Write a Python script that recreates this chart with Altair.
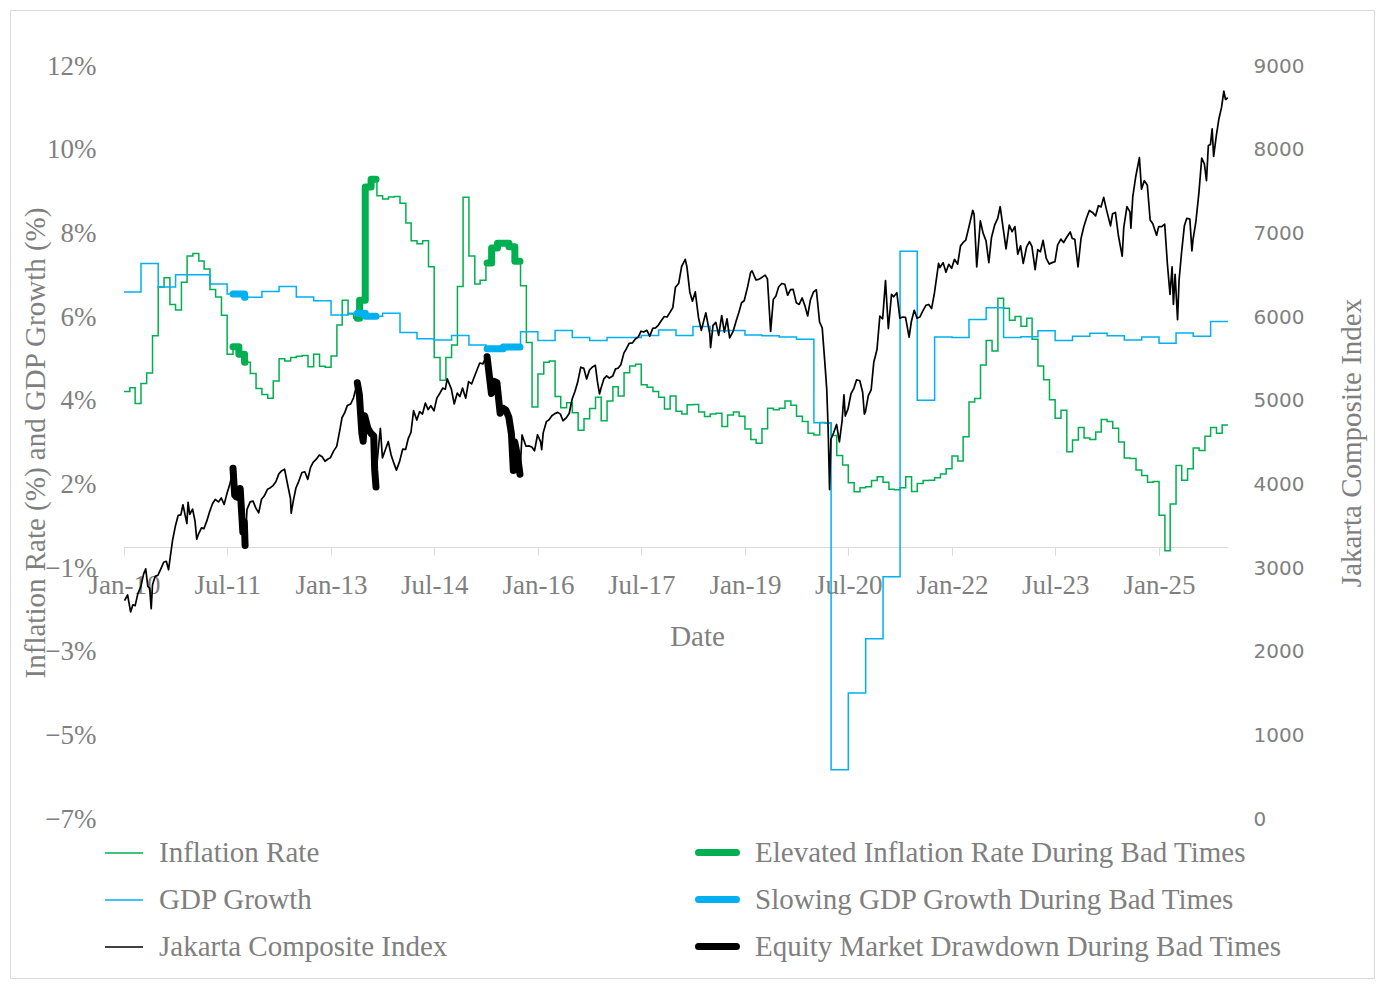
import altair as alt
import pandas as pd

# ---------------- data ----------------
# Monthly inflation rate (%), Jan 2010 .. Dec 2025
inflation_values = [
    3.72, 3.81, 3.43, 3.91, 4.16, 5.05, 6.22, 6.44, 5.80, 5.67, 6.33, 6.96,
    7.02, 6.84, 6.65, 6.16, 5.98, 5.54, 4.61, 4.79, 4.61, 4.42, 4.15, 3.79,
    3.65, 3.56, 3.97, 4.50, 4.45, 4.53, 4.56, 4.58, 4.31, 4.61, 4.32, 4.30,
    4.57, 5.31, 5.90, 5.57, 5.47, 5.90, 8.61, 8.79, 8.40, 8.32, 8.37, 8.38,
    8.22, 7.75, 7.32, 7.25, 7.32, 6.70, 4.53, 3.99, 4.53, 4.83, 6.23, 8.36,
    6.96, 6.29, 6.38, 6.79, 7.15, 7.26, 7.26, 7.18, 6.83, 6.25, 4.89, 3.35,
    4.14, 4.42, 4.45, 3.60, 3.33, 3.45, 3.21, 2.79, 3.07, 3.31, 3.58, 3.02,
    3.49, 3.83, 3.61, 4.17, 4.33, 4.37, 3.88, 3.82, 3.72, 3.58, 3.30, 3.61,
    3.25, 3.18, 3.40, 3.41, 3.23, 3.12, 3.18, 3.20, 2.88, 3.16, 3.23, 3.13,
    2.82, 2.57, 2.48, 2.83, 3.32, 3.28, 3.32, 3.49, 3.39, 3.13, 3.00, 2.72,
    2.68, 2.98, 2.96, 2.67, 2.19, 1.96, 1.54, 1.32, 1.42, 1.44, 1.59, 1.68,
    1.55, 1.38, 1.37, 1.42, 1.68, 1.33, 1.52, 1.59, 1.60, 1.66, 1.75, 1.87,
    2.18, 2.06, 2.64, 3.47, 3.55, 4.35, 4.94, 4.69, 5.95, 5.71, 5.42, 5.51,
    5.28, 5.47, 4.97, 4.33, 4.00, 3.52, 3.08, 3.27, 2.28, 2.56, 2.86, 2.61,
    2.57, 2.75, 3.05, 3.00, 2.84, 2.51, 2.13, 2.12, 1.84, 1.71, 1.55, 1.57,
    0.76, -0.09, 1.03, 1.95, 1.60, 1.87, 2.37, 2.31, 2.65, 2.86, 2.72, 2.92,
]

# Quarterly GDP growth (%), Q1 2010 .. Q4 2025
gdp_values = [
    6.10, 6.78, 6.22, 6.51,
    6.51, 6.29, 6.05, 5.97,
    6.11, 6.23, 5.98, 5.89,
    5.55, 5.59, 5.52, 5.59,
    5.13, 4.98, 4.95, 5.06,
    4.83, 4.74, 4.78, 5.15,
    4.94, 5.18, 5.01, 4.94,
    5.01, 5.01, 5.06, 5.19,
    5.06, 5.27, 5.17, 5.18,
    5.07, 5.05, 5.02, 4.97,
    2.97, -5.32, -3.49, -2.19,
    -0.71, 7.07, 3.51, 5.02,
    5.01, 5.44, 5.72, 5.01,
    5.03, 5.17, 4.94, 5.04,
    5.11, 5.05, 4.95, 5.02,
    4.87, 5.12, 5.04, 5.39,
]

# Jakarta Composite Index
jci_dates = [
    "2010-01-04", "2010-01-20", "2010-02-05", "2010-02-17", "2010-03-01", "2010-03-15", "2010-03-31",
    "2010-04-15", "2010-04-26", "2010-05-07", "2010-05-17", "2010-05-25", "2010-06-01", "2010-06-15",
    "2010-06-30", "2010-07-15", "2010-07-30", "2010-08-13", "2010-08-25", "2010-09-01", "2010-09-15",
    "2010-09-30", "2010-10-15", "2010-10-29", "2010-11-09", "2010-11-30", "2010-12-06", "2010-12-15",
    "2010-12-30",
    "2011-01-12", "2011-01-21", "2011-01-31", "2011-02-15", "2011-02-28", "2011-03-15", "2011-03-31",
    "2011-04-15", "2011-04-29", "2011-05-16", "2011-05-31", "2011-06-15", "2011-06-30", "2011-07-15",
    "2011-07-29", "2011-08-01", "2011-08-10", "2011-08-19", "2011-08-31", "2011-09-08", "2011-09-22",
    "2011-09-30", "2011-10-04", "2011-10-14", "2011-10-31", "2011-11-15", "2011-11-30", "2011-12-15",
    "2011-12-30",
    "2012-01-13", "2012-01-31", "2012-02-15", "2012-02-29", "2012-03-15", "2012-03-30", "2012-04-13",
    "2012-04-30", "2012-05-15", "2012-05-31", "2012-06-04", "2012-06-15", "2012-06-29", "2012-07-13",
    "2012-07-31", "2012-08-15", "2012-08-31", "2012-09-14", "2012-09-28", "2012-10-15", "2012-10-31",
    "2012-11-15", "2012-11-30", "2012-12-14", "2012-12-28",
    "2013-01-15", "2013-01-31", "2013-02-15", "2013-02-28", "2013-03-15", "2013-03-28", "2013-04-15",
    "2013-04-30", "2013-05-20", "2013-05-31", "2013-06-13", "2013-06-20", "2013-06-28", "2013-07-15",
    "2013-07-31", "2013-08-15", "2013-08-20", "2013-08-27", "2013-08-30", "2013-09-19", "2013-09-30",
    "2013-10-15", "2013-10-31", "2013-11-15", "2013-11-29", "2013-12-13", "2013-12-30",
    "2014-01-15", "2014-01-31", "2014-02-14", "2014-02-28", "2014-03-14", "2014-03-31", "2014-04-15",
    "2014-04-30", "2014-05-15", "2014-05-30", "2014-06-13", "2014-06-30", "2014-07-15", "2014-07-31",
    "2014-08-15", "2014-08-29", "2014-09-08", "2014-09-30", "2014-10-15", "2014-10-31", "2014-11-14",
    "2014-11-28", "2014-12-15", "2014-12-30",
    "2015-01-15", "2015-01-30", "2015-02-13", "2015-02-27", "2015-03-16", "2015-03-31", "2015-04-07",
    "2015-04-30", "2015-05-15", "2015-05-29", "2015-06-15", "2015-06-30", "2015-07-15", "2015-07-31",
    "2015-08-14", "2015-08-24", "2015-08-31", "2015-09-15", "2015-09-28", "2015-09-30", "2015-10-09",
    "2015-10-30", "2015-11-13", "2015-11-30", "2015-12-14", "2015-12-30",
    "2016-01-15", "2016-01-21", "2016-01-29", "2016-02-15", "2016-02-29", "2016-03-15", "2016-03-31",
    "2016-04-15", "2016-04-29", "2016-05-13", "2016-05-31", "2016-06-15", "2016-06-30", "2016-07-15",
    "2016-07-29", "2016-08-15", "2016-08-31", "2016-09-15", "2016-09-30", "2016-10-14", "2016-10-31",
    "2016-11-11", "2016-11-22", "2016-11-30", "2016-12-15", "2016-12-30",
    "2017-01-13", "2017-01-31", "2017-02-15", "2017-02-28", "2017-03-15", "2017-03-31", "2017-04-13",
    "2017-04-28", "2017-05-15", "2017-05-31", "2017-06-15", "2017-06-30", "2017-07-14", "2017-07-31",
    "2017-08-15", "2017-08-31", "2017-09-15", "2017-09-29", "2017-10-13", "2017-10-31", "2017-11-15",
    "2017-11-30", "2017-12-15", "2017-12-29",
    "2018-01-15", "2018-01-31", "2018-02-19", "2018-02-28", "2018-03-15", "2018-03-29", "2018-04-13",
    "2018-04-30", "2018-05-15", "2018-05-31", "2018-06-08", "2018-06-29", "2018-07-03", "2018-07-16",
    "2018-07-31", "2018-08-15", "2018-08-31", "2018-09-14", "2018-09-28", "2018-10-12", "2018-10-31",
    "2018-11-15", "2018-11-30", "2018-12-14", "2018-12-28",
    "2019-01-15", "2019-01-31", "2019-02-08", "2019-02-28", "2019-03-15", "2019-03-29", "2019-04-18",
    "2019-04-30", "2019-05-17", "2019-05-31", "2019-06-14", "2019-06-28", "2019-07-15", "2019-07-31",
    "2019-08-15", "2019-08-30", "2019-09-13", "2019-09-30", "2019-10-15", "2019-10-31", "2019-11-15",
    "2019-11-29", "2019-12-13", "2019-12-30",
    "2020-01-14", "2020-01-31", "2020-02-14", "2020-02-28", "2020-03-09", "2020-03-16", "2020-03-24",
    "2020-03-31", "2020-04-15", "2020-04-30", "2020-05-15", "2020-05-29", "2020-06-08", "2020-06-15",
    "2020-06-30", "2020-07-15", "2020-07-31", "2020-08-14", "2020-08-31", "2020-09-15", "2020-09-24",
    "2020-09-30", "2020-10-15", "2020-10-30", "2020-11-13", "2020-11-30", "2020-12-15", "2020-12-30",
    "2021-01-14", "2021-01-29", "2021-02-15", "2021-02-26", "2021-03-15", "2021-03-31", "2021-04-15",
    "2021-04-30", "2021-05-19", "2021-05-31", "2021-06-15", "2021-06-30", "2021-07-15", "2021-07-30",
    "2021-08-16", "2021-08-31", "2021-09-15", "2021-09-30", "2021-10-22", "2021-10-29", "2021-11-15",
    "2021-11-30", "2021-12-15", "2021-12-30",
    "2022-01-14", "2022-01-31", "2022-02-15", "2022-02-28", "2022-03-15", "2022-03-31", "2022-04-21",
    "2022-04-28", "2022-05-12", "2022-05-31", "2022-06-15", "2022-06-30", "2022-07-15", "2022-07-29",
    "2022-08-15", "2022-08-31", "2022-09-13", "2022-09-30", "2022-10-14", "2022-10-31", "2022-11-15",
    "2022-11-30", "2022-12-15", "2022-12-30",
    "2023-01-13", "2023-01-31", "2023-02-15", "2023-02-28", "2023-03-17", "2023-03-31", "2023-04-14",
    "2023-04-28", "2023-05-15", "2023-05-31", "2023-06-15", "2023-06-30", "2023-07-14", "2023-07-31",
    "2023-08-15", "2023-08-31", "2023-09-19", "2023-09-29", "2023-10-13", "2023-10-30", "2023-11-15",
    "2023-11-30", "2023-12-15", "2023-12-29",
    "2024-01-15", "2024-01-31", "2024-02-15", "2024-02-29", "2024-03-14", "2024-03-28", "2024-04-19",
    "2024-04-30", "2024-05-15", "2024-05-31", "2024-06-20", "2024-06-28", "2024-07-15", "2024-07-31",
    "2024-08-05", "2024-08-15", "2024-08-30", "2024-09-19", "2024-09-30", "2024-10-15", "2024-10-31",
    "2024-11-15", "2024-11-29", "2024-12-19", "2024-12-30",
    "2025-01-15", "2025-01-31", "2025-02-14", "2025-02-28", "2025-03-11", "2025-03-18", "2025-03-27",
    "2025-04-09", "2025-04-17", "2025-04-30", "2025-05-15", "2025-05-28", "2025-06-13", "2025-06-24",
    "2025-06-30", "2025-07-15", "2025-07-31", "2025-08-15", "2025-08-29", "2025-09-09", "2025-09-19",
    "2025-09-30", "2025-10-09", "2025-10-17", "2025-10-31", "2025-11-14", "2025-11-28", "2025-12-10",
    "2025-12-19", "2025-12-31",
]
jci_values = [
    2610, 2680, 2475, 2560, 2550, 2690, 2777,
    2930, 2990, 2780, 2760, 2514, 2800, 2900,
    2914, 2990, 3069, 3080, 2980, 3100, 3330,
    3501, 3630, 3635, 3756, 3531, 3786, 3640,
    3704,
    3560, 3345, 3409, 3480, 3470, 3560, 3679,
    3770, 3820, 3790, 3837, 3760, 3889, 4000,
    4131, 4193, 3870, 3850, 3842, 3950, 3430,
    3549, 3269, 3700, 3791, 3800, 3715, 3660,
    3822,
    3860, 3942, 3960, 3985, 4030, 4122, 4160,
    4181, 4010, 3833, 3655, 3800, 3956, 4030,
    4142, 4150, 4060, 4200, 4263, 4300, 4350,
    4330, 4276, 4300, 4317,
    4400, 4454, 4630, 4796, 4860, 4941, 4960,
    5034, 5214, 5069, 4610, 4515, 4819, 4670,
    4610, 4580, 4175, 3967, 4195, 4670, 4316,
    4410, 4511, 4350, 4256, 4170, 4274,
    4420, 4419, 4550, 4620, 4880, 4768, 4870,
    4840, 4970, 4894, 4940, 4879, 5030, 5089,
    5150, 5137, 5260, 5138, 4960, 5090, 5050,
    5150, 5030, 5227,
    5200, 5289, 5370, 5450, 5440, 5519, 5524,
    5086, 5230, 5216, 4850, 4911, 4890, 4803,
    4600, 4164, 4510, 4340, 4121, 4224, 4590,
    4455, 4460, 4446, 4400, 4593,
    4510, 4414, 4615, 4750, 4771, 4820, 4845,
    4860, 4839, 4760, 4797, 4850, 5017, 5110,
    5216, 5400, 5386, 5260, 5365, 5400, 5423,
    5230, 5080, 5149, 5260, 5297,
    5270, 5294, 5380, 5387, 5430, 5568, 5620,
    5685, 5690, 5738, 5760, 5830, 5820, 5841,
    5770, 5864, 5870, 5901, 5950, 6006, 6000,
    6056, 6110, 6356,
    6400, 6606, 6689, 6597, 6300, 6189, 6300,
    5995, 5840, 5984, 6050, 5799, 5633, 5900,
    5936, 5780, 6018, 5820, 5977, 5750, 5832,
    5950, 6056, 6170, 6194,
    6360, 6533, 6550, 6443, 6450, 6469, 6500,
    6455, 5827, 6209, 6250, 6359, 6400, 6391,
    6260, 6328, 6330, 6169, 6150, 6228, 6130,
    6012, 6200, 6300,
    6325, 5940, 5870, 5452, 5136, 4690, 3937,
    4539, 4620, 4716, 4507, 4754, 5070, 4816,
    4905, 5080, 5150, 5250, 5238, 5100, 4840,
    4870, 5060, 5128, 5460, 5612, 6010, 5979,
    6435, 5862, 6270, 6242, 6290, 5986, 6000,
    5996, 5760, 5947, 6080, 5985, 6000, 6070,
    6140, 6150, 6100, 6287, 6640, 6591, 6650,
    6534, 6630, 6581,
    6690, 6631, 6850, 6888, 6920, 7071, 7276,
    7229, 6599, 7149, 7000, 6912, 6650, 6951,
    7100, 7178, 7318, 7041, 6815, 7099, 7020,
    7081, 6750, 6851,
    6640, 6839, 6900, 6843, 6565, 6805, 6780,
    6916, 6700, 6633, 6650, 6662, 6860, 6931,
    6890, 6953, 7017, 6940, 6930, 6600, 6940,
    7081, 7190, 7273,
    7250, 7208, 7330, 7316, 7430, 7289, 7090,
    7234, 7250, 6971, 6726, 7064, 7320, 7256,
    7060, 7440, 7670, 7905, 7528, 7630, 7575,
    7160, 7114, 6977, 7080,
    7080, 7109, 6640, 6270, 6600, 6150, 6510,
    5968, 6440, 6767, 7090, 7180, 7170, 6790,
    6928, 7140, 7484, 7900, 7830, 7630, 8050,
    8061, 8250, 7920, 8164, 8370, 8508, 8700,
    8600, 8620,
]

# "Bad times" windows
bad_start = ["2011-08-01", "2013-05-20", "2015-04-07"]
bad_end = ["2011-10-04", "2013-08-27", "2015-09-28"]

series_names = ["Inflation Rate", "GDP Growth", "Jakarta Composite Index"]
highlight_names = ["Elevated Inflation Rate During Bad Times",
                   "Slowing GDP Growth During Bad Times",
                   "Equity Market Drawdown During Bad Times"]
series_colors = ["#00B050", "#00B0F0", "#000000"]

x_tick_months = [(2010, 1), (2011, 7), (2013, 1), (2014, 7), (2016, 1), (2017, 7),
                 (2019, 1), (2020, 7), (2022, 1), (2023, 7), (2025, 1)]
left_tick_values = [-6.5, -4.5, -2.5, -0.5, 1.5, 3.5, 5.5, 7.5, 9.5, 11.5]
right_tick_values = [0, 1000, 2000, 3000, 4000, 5000, 6000, 7000, 8000, 9000]

# ---------------- build tables ----------------
def ds(d):
    return pd.Timestamp(d).strftime("%Y-%m-%d")

month_dates = list(pd.date_range("2010-01-01", periods=len(inflation_values), freq="MS"))
quarter_dates = list(pd.date_range("2010-01-01", periods=len(gdp_values), freq="QS"))
end_date = pd.Timestamp("2026-01-01")

rows = []
for d, v in zip(month_dates + [end_date], inflation_values + [inflation_values[-1]]):
    rows.append({"date": ds(d), "value": v, "series": series_names[0]})
for d, v in zip(quarter_dates + [end_date], gdp_values + [gdp_values[-1]]):
    rows.append({"date": ds(d), "value": v, "series": series_names[1]})
thin_left_df = pd.DataFrame(rows)

jci_df = pd.DataFrame({"date": jci_dates, "value": jci_values, "series": series_names[2]})


def step_highlight(dates, values, name):
    out = []
    for k, (s, e) in enumerate(zip(bad_start, bad_end)):
        s_ts, e_ts = pd.Timestamp(s), pd.Timestamp(e)
        before = [v for d, v in zip(dates, values) if d <= s_ts]
        out.append({"date": ds(s_ts), "value": before[-1], "series": name, "window": k})
        for d, v in zip(dates, values):
            if s_ts < d <= e_ts:
                out.append({"date": ds(d), "value": v, "series": name, "window": k})
        last = [v for d, v in zip(dates, values) if d <= e_ts][-1]
        out.append({"date": ds(e_ts), "value": last, "series": name, "window": k})
    return out


thick_left_df = pd.DataFrame(
    step_highlight(month_dates, inflation_values, highlight_names[0])
    + step_highlight(quarter_dates, gdp_values, highlight_names[1])
)

jrows = []
for k, (s, e) in enumerate(zip(bad_start, bad_end)):
    for d, v in zip(jci_dates, jci_values):
        if pd.Timestamp(s) <= pd.Timestamp(d) <= pd.Timestamp(e):
            jrows.append({"date": d, "value": v, "series": highlight_names[2], "window": k})
thick_right_df = pd.DataFrame(jrows)

# ---------------- chart ----------------
SERIF = "Liberation Serif"
SANS = "DejaVu Sans"
GRAY = "#7f7f7f"
AXIS_GRAY = "#d9d9d9"
W, H = 1104, 753

# rounded "capsule" legend symbol for the thick highlight lines
CAPSULE = ("M -0.844,-0.078 L 0.844,-0.078 A 0.078,0.078 0 0 1 0.844,0.078 "
           "L -0.844,0.078 A 0.078,0.078 0 0 1 -0.844,-0.078 Z")

xenc = alt.X(
    "date:T",
    scale=alt.Scale(type="utc", domain=[alt.DateTime(year=2010, month=1, date=1, utc=True),
                                        alt.DateTime(year=2026, month=1, date=1, utc=True)]),
    axis=alt.Axis(
        title="Date",
        values=[alt.DateTime(year=y, month=m, date=1, utc=True) for y, m in x_tick_months],
        labelExpr="utcFormat(datum.value, '%b-%y')",
        offset=-272, grid=False,
        domainColor=AXIS_GRAY, tickColor=AXIS_GRAY, tickSize=8, tickWidth=1,
        labelFont=SERIF, labelFontSize=27, labelColor=GRAY, labelPadding=17,
        labelFlush=False, labelOverlap=False,
        titleFont=SERIF, titleFontSize=29, titleColor=GRAY, titleFontWeight="normal",
        titleX=573, titleY=89, titleBaseline="middle",
    ),
)

yleft = alt.Y(
    "value:Q",
    scale=alt.Scale(domain=[-6.5, 11.5], nice=False, zero=False),
    axis=alt.Axis(
        orient="left", title="Inflation Rate (%) and GDP Growth (%)",
        values=left_tick_values,
        labelExpr="(datum.value < 0 ? '\u2212' : '') + format(floor(abs(datum.value) + 0.5), 'd') + '%'",
        grid=False, domain=False, ticks=False, labelPadding=28,
        labelFont=SERIF, labelFontSize=27, labelColor=GRAY,
        titleFont=SERIF, titleFontSize=29, titleColor=GRAY, titleFontWeight="normal",
        titleAngle=270, titleX=-89, titleY=H / 2, titleAlign="center", titleBaseline="middle",
    ),
)

yright = alt.Y(
    "value:Q",
    scale=alt.Scale(domain=[0, 9000], nice=False, zero=False),
    axis=alt.Axis(
        orient="right", title="Jakarta Composite Index",
        values=right_tick_values, format="d",
        grid=False, domain=False, ticks=False, labelPadding=25,
        labelFont=SANS, labelFontSize=20, labelColor=GRAY,
        titleFont=SERIF, titleFontSize=29, titleColor=GRAY, titleFontWeight="normal",
        titleAngle=270, titleX=123, titleY=H / 2, titleAlign="center", titleBaseline="middle",
    ),
)

color_enc = alt.Color(
    "series:N",
    scale=alt.Scale(domain=series_names, range=series_colors),
    legend=alt.Legend(
        orient="none", legendX=-20, legendY=767, direction="vertical", title=None,
        symbolType="stroke", symbolSize=1444, symbolStrokeWidth=1.5,
        labelFont=SERIF, labelFontSize=29, labelColor=GRAY, labelOffset=15,
        labelLimit=700, rowPadding=12, padding=0,
    ),
)

stroke_enc = alt.Stroke(
    "series:N",
    scale=alt.Scale(domain=highlight_names, range=series_colors),
    legend=alt.Legend(
        orient="none", legendX=569, legendY=762, direction="vertical", title=None,
        symbolType=CAPSULE, symbolSize=2025, symbolStrokeWidth=3.5,
        labelFont=SERIF, labelFontSize=29, labelColor=GRAY, labelOffset=13,
        labelLimit=700, rowPadding=7, padding=0,
    ),
)

border = alt.Chart(pd.DataFrame({"k": [0]})).mark_rect(
    fill="transparent", stroke=AXIS_GRAY, strokeWidth=1
).encode(
    x=alt.value(-113.5), x2=alt.value(W + 146.5),
    y=alt.value(-55.5), y2=alt.value(H + 159.5),
)

thin_left = alt.Chart(thin_left_df).mark_line(
    strokeWidth=1.5, interpolate="step-after"
).encode(x=xenc, y=yleft, color=color_enc)

thick_left = alt.Chart(thick_left_df).mark_line(
    strokeWidth=7, interpolate="step-after", strokeCap="round", strokeJoin="round"
).encode(x=xenc, y=yleft, stroke=stroke_enc, detail="window:N")

thin_right = alt.Chart(jci_df).mark_line(strokeWidth=1.7, strokeJoin="round").encode(
    x=xenc, y=yright, color=color_enc
)

thick_right = alt.Chart(thick_right_df).mark_line(
    strokeWidth=7, strokeCap="round", strokeJoin="round"
).encode(x=xenc, y=yright, stroke=stroke_enc, detail="window:N")

left = alt.layer(thin_left, thick_left)
right = alt.layer(thin_right, thick_right)

chart = alt.layer(border, left, right).resolve_scale(y="independent").properties(
    width=W, height=H,
    padding={"left": 116, "top": 58, "right": 147, "bottom": 162},
    autosize=alt.AutoSizeParams(type="none"),
    background="white",
).configure_view(strokeWidth=0)

chart.save("out.html", embed_options={"renderer": "svg", "actions": False})
